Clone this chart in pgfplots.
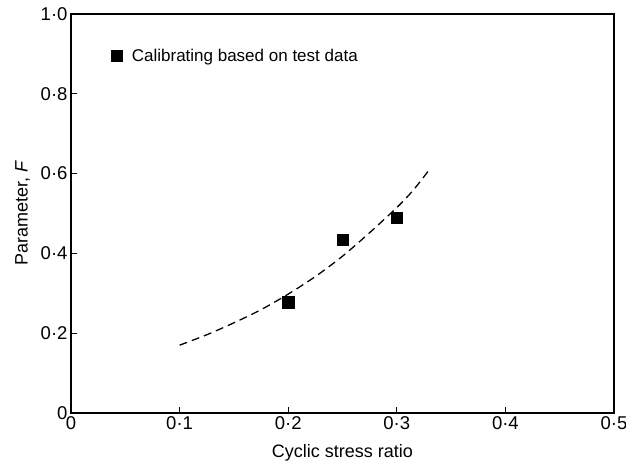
\documentclass[border=0pt]{standalone}
\usepackage{pgfplots}
\pgfplotsset{compat=1.18}
\usepackage{fontspec}
\setmainfont{Liberation Sans}
\begin{document}
\begin{tikzpicture}
\path[use as bounding box] (-71pt,-52pt) rectangle (555pt,413pt);
\begin{axis}[
  at={(0pt,0pt)}, anchor=south west,
  scale only axis, width=543pt, height=399pt,
  xmin=0, xmax=0.5, ymin=0, ymax=1.0,
  axis line style={line width=1.1pt},
  tick style={line width=1.1pt, black},
  major tick length=6pt,
  tick pos=left,
  xtick={0,0.1,0.2,0.3,0.4,0.5},
  xticklabels={0,0·1,0·2,0·3,0·4,0·5},
  ytick={0,0.2,0.4,0.6,0.8,1.0},
  yticklabels={0,0·2,0·4,0·6,0·8,1·0},
  tick label style={font=\fontsize{18.5}{21}\selectfont},
  label style={font=\fontsize{18}{21}\selectfont},
  xlabel={Cyclic stress ratio},
  ylabel={Parameter, \textit{F}},
  xlabel style={yshift=-8pt},
  ylabel style={yshift=4pt},
  legend style={draw=none, fill=none, at={(0.074,0.895)}, anchor=west,
    font=\fontsize{17}{20}\selectfont, inner sep=0pt},
  legend image code/.code={\draw[mark=square*, mark size=5.5pt, mark options={fill=black}] plot coordinates {(0cm,0cm)}; \path[draw=none] (0pt,0pt) -- (13pt,0pt);},
  legend cell align=left,
]
\addplot[only marks, mark=square*, mark size=5.8pt, black] coordinates {
(0.20,0.278) (0.25,0.434) (0.30,0.489)
};
\addlegendentry{Calibrating based on test data}
\addplot[black, line width=1.3pt, dash pattern=on 8pt off 5pt, smooth, forget plot] coordinates {
(0.100,0.170) (0.125,0.196) (0.150,0.226) (0.175,0.259) (0.200,0.298) (0.225,0.342) (0.250,0.393) (0.275,0.452) (0.300,0.515) (0.315,0.558) (0.330,0.610)
};
\end{axis}
\end{tikzpicture}
\end{document}
